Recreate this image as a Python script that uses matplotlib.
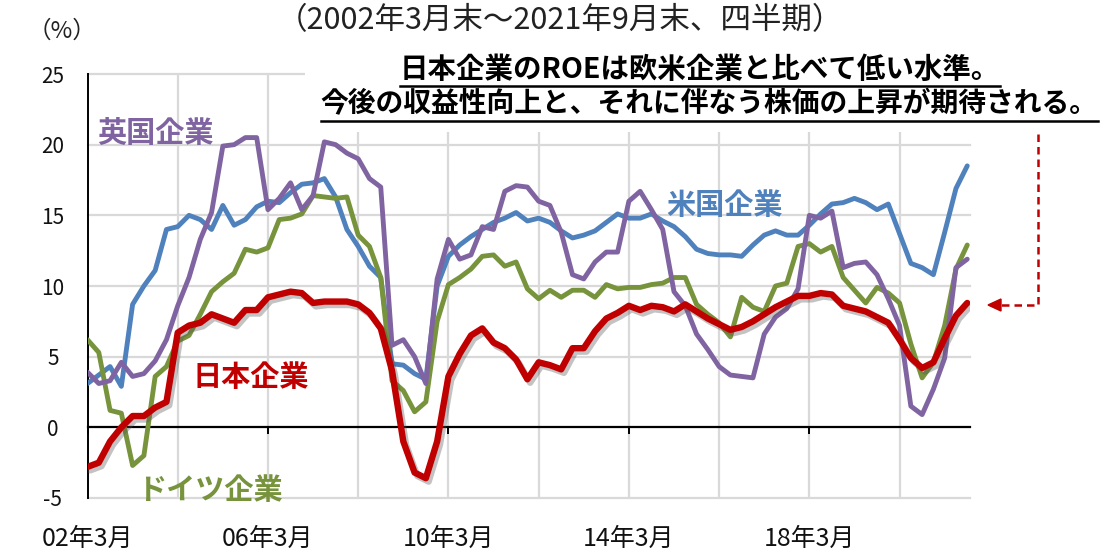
import matplotlib
matplotlib.use('Agg')
import matplotlib.pyplot as plt
import matplotlib.patheffects as pe
from matplotlib.patches import Rectangle, Polygon
from matplotlib.lines import Line2D
import numpy as np

plt.rcParams['font.family'] = ['Noto Sans CJK JP', 'DejaVu Sans']

# ---- data (quarterly, 2002/03 - 2021/09), ROE % ----
japan = [-2.8, -2.5, -1.0, 0.0, 0.8, 0.8, 1.4, 1.8, 6.7, 7.2, 7.4, 8.0, 7.7, 7.4, 8.3, 8.3,
         9.2, 9.4, 9.6, 9.5, 8.8, 8.9, 8.9, 8.9, 8.7, 8.1, 7.0, 4.0, -1.0, -3.2, -3.6, -1.0,
         3.6, 5.2, 6.5, 7.0, 6.0, 5.6, 4.8, 3.4, 4.6, 4.4, 4.1, 5.6, 5.6, 6.8, 7.7, 8.1,
         8.6, 8.3, 8.6, 8.5, 8.2, 8.7, 8.2, 7.7, 7.3, 6.9, 7.1, 7.5, 8.0, 8.5, 8.9, 9.3,
         9.3, 9.5, 9.4, 8.6, 8.4, 8.2, 7.8, 7.4, 6.2, 4.9, 4.2, 4.6, 6.3, 7.9, 8.8]
us = [3.1, 3.7, 4.3, 2.9, 8.7, 10.0, 11.1, 14.0, 14.2, 15.0, 14.7, 14.0, 15.7, 14.3, 14.7, 15.6,
      16.0, 15.9, 16.6, 17.2, 17.3, 17.6, 16.3, 14.0, 12.8, 11.4, 10.6, 4.5, 4.4, 3.8, 3.4, 10.0,
      12.1, 12.9, 13.5, 14.0, 14.5, 14.8, 15.2, 14.6, 14.8, 14.5, 13.9, 13.4, 13.6, 13.9, 14.5, 15.1,
      14.8, 14.8, 15.1, 14.6, 14.2, 13.5, 12.6, 12.3, 12.2, 12.2, 12.1, 12.9, 13.6, 13.9, 13.6, 13.6,
      14.3, 15.1, 15.8, 15.9, 16.2, 15.9, 15.4, 15.8, 13.7, 11.6, 11.3, 10.8, 13.8, 16.9, 18.5]
germany = [6.2, 5.3, 1.2, 1.0, -2.7, -2.0, 3.6, 4.3, 6.1, 6.5, 8.0, 9.6, 10.3, 10.9, 12.6, 12.4,
           12.7, 14.7, 14.8, 15.1, 16.4, 16.3, 16.2, 16.3, 13.6, 12.8, 10.6, 3.3, 2.6, 1.1, 1.8, 7.5,
           10.1, 10.6, 11.2, 12.1, 12.2, 11.4, 11.7, 9.8, 9.1, 9.7, 9.2, 9.7, 9.7, 9.2, 10.1, 9.8,
           9.9, 9.9, 10.1, 10.2, 10.6, 10.6, 8.7, 8.0, 7.4, 6.4, 9.2, 8.5, 8.2, 10.0, 10.2, 12.8,
           13.0, 12.4, 12.8, 10.6, 9.7, 8.8, 9.9, 9.5, 8.8, 5.9, 3.5, 4.6, 7.2, 11.2, 12.9]
uk = [3.9, 3.1, 3.3, 4.6, 3.6, 3.8, 4.7, 6.2, 8.6, 10.6, 13.3, 15.2, 19.9, 20.0, 20.5, 20.5,
      15.4, 16.2, 17.3, 15.4, 16.4, 20.2, 20.0, 19.4, 19.0, 17.6, 17.0, 5.8, 6.2, 5.0, 3.1, 10.5,
      13.3, 11.9, 12.2, 14.2, 14.0, 16.7, 17.1, 17.0, 16.0, 15.7, 13.8, 10.8, 10.5, 11.7, 12.4, 12.4,
      16.0, 16.7, 15.4, 14.0, 9.6, 8.6, 6.6, 5.5, 4.3, 3.7, 3.6, 3.5, 6.6, 7.8, 8.4, 9.8,
      15.0, 14.8, 15.3, 11.3, 11.6, 11.7, 10.8, 9.1, 7.2, 1.5, 0.9, 2.7, 4.9, 11.3, 11.9]

x_tick_pos = [0, 16, 32, 48, 64]
x_tick_labels = ['02年3月', '06年3月', '10年3月', '14年3月', '18年3月']
y_ticks = [-5, 0, 5, 10, 15, 20, 25]
v_grid = [8, 16, 24, 32, 40, 48, 56, 64, 72]

title_text = '（2002年3月末～2021年9月末、四半期）'
unit_text = '（%）'
note_line1 = '日本企業のROEは欧米企業と比べて低い水準。'
note_line2 = '今後の収益性向上と、それに伴なう株価の上昇が期待される。'

C_US = '#4F81BD'
C_JP = '#C00000'
C_DE = '#77933C'
C_UK = '#8064A2'
GRID = '#D9D9D9'

W, H = 1111, 555
fig = plt.figure(figsize=(W / 100, H / 100), dpi=100)
fx = lambda px: px / W
fy = lambda py: 1 - py / H

ax = fig.add_axes([fx(87.5), fy(498), (969.5 - 87.5) / W, (498 - 74) / H])
ax.set_xlim(0, 78.2)
ax.set_ylim(-5, 25)

for v in v_grid:
    ax.axvline(v, color=GRID, lw=1.6, zorder=0)
for v in y_ticks:
    if v != 0:
        ax.axhline(v, color=GRID, lw=1.6, zorder=0, clip_on=False)

for s in ['top', 'right']:
    ax.spines[s].set_visible(False)
ax.spines['left'].set_color('black')
ax.spines['left'].set_linewidth(1.4)
ax.spines['bottom'].set_position(('data', 0))
ax.spines['bottom'].set_color('black')
ax.spines['bottom'].set_linewidth(1.6)
ax.spines['bottom'].set_zorder(1)

ax.set_yticks(y_ticks)
ax.set_yticklabels([str(v) for v in y_ticks], fontsize=15, color='#111111')
for lbl in ax.get_yticklabels():
    lbl.set_horizontalalignment('center')
ax.tick_params(axis='y', length=0, pad=25)

ax.set_xticks(x_tick_pos)
ax.set_xticklabels(x_tick_labels, fontsize=18, color='#111111')
ax.tick_params(axis='x', direction='out', length=5, width=1.4, pad=66)

xi = np.arange(len(japan))
lw = 3.5
ax.plot(xi, us, color=C_US, lw=lw, solid_joinstyle='round', solid_capstyle='round', zorder=3)
ax.plot(xi, germany, color=C_DE, lw=lw, solid_joinstyle='round', solid_capstyle='round', zorder=3)
ax.plot(xi, uk, color=C_UK, lw=lw, solid_joinstyle='round', solid_capstyle='round', zorder=3)
ax.plot(xi, japan, color=C_JP, lw=4.6, solid_joinstyle='round', solid_capstyle='round', zorder=4,
        path_effects=[pe.SimpleLineShadow(offset=(2, -2.5), shadow_color='#555555', alpha=0.35),
                      pe.Normal()])

# series labels
fig.text(fx(155), fy(133), '英国企業', color=C_UK, fontsize=21, fontweight='bold', ha='center', va='center')
fig.text(fx(725), fy(205), '米国企業', color=C_US, fontsize=21, fontweight='bold', ha='center', va='center')
fig.text(fx(251), fy(377), '日本企業', color=C_JP, fontsize=21, fontweight='bold', ha='center', va='center')
fig.text(fx(210), fy(490), 'ドイツ企業', color=C_DE, fontsize=21, fontweight='bold', ha='center', va='center')

# title and unit
fig.text(fx(560), fy(21), title_text, fontsize=22, ha='center', va='center', color='#222222')
fig.text(fx(62), fy(31), unit_text, fontsize=17, ha='center', va='center', color='#222222')

# note box
fig.add_artist(Rectangle((fx(305), fy(132)), fx(1108) - fx(305), (132 - 50) / H,
                         transform=fig.transFigure, facecolor='white', edgecolor='none', zorder=5))
t1 = fig.text(fx(700), fy(70), note_line1, fontsize=20.5, fontweight='bold', ha='center', va='center', zorder=6)
t2 = fig.text(fx(709), fy(104), note_line2, fontsize=20, fontweight='bold', ha='center', va='center', zorder=6)

fig.canvas.draw()
for t, uy in [(t1, 86), (t2, 121)]:
    bb = t.get_window_extent()
    fig.add_artist(Line2D([bb.x0 / W, bb.x1 / W], [fy(uy), fy(uy)], transform=fig.transFigure,
                          color='black', lw=1.8, zorder=7))

# red dashed arrow
fig.add_artist(Line2D([fx(1038), fx(1038), fx(999)], [fy(134), fy(305), fy(305)],
                      transform=fig.transFigure, color=C_JP, lw=1.8, ls=(0, (3, 2)), zorder=7))
fig.add_artist(Polygon([(fx(988), fy(305)), (fx(1001), fy(299)), (fx(1001), fy(311))],
                       closed=True, transform=fig.transFigure, facecolor=C_JP, edgecolor=C_JP, zorder=7))

fig.savefig('out.png', dpi=100)
